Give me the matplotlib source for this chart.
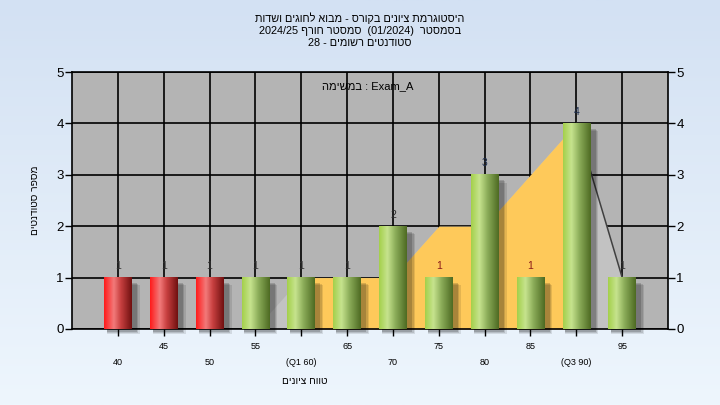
import numpy as np
import matplotlib
matplotlib.use("Agg")
import matplotlib.pyplot as plt
from matplotlib.patches import Rectangle
from matplotlib.colors import LinearSegmentedColormap

plt.rcParams['font.family'] = ['Liberation Sans', 'DejaVu Sans']

# ---- data ----
grades = [40, 45, 50, 55, 60, 65, 70, 75, 80, 85, 90, 95]
tick_labels = ['40', '45', '50', '55', '(Q1 60)', '65', '70', '75', '80', '85', '(Q3 90)', '95']
counts = [1, 1, 1, 1, 1, 1, 2, 1, 3, 1, 4, 1]
failed = [True, True, True, False, False, False, False, False, False, False, False, False]
# shaded area behind the bars
area_vals = [0, 0, 0, 0, 1, 1, 1, 2, 2, 3, 4, 1]
q1_idx, q3_idx = 4, 10

def rev(s):
    # hebrew is drawn left to right by matplotlib, so flip it to visual order
    return s[::-1]

title_lines = [rev('היסטוגרמת ציונים בקורס - מבוא לחוגים ושדות'),
               '2024/25 ' + rev('סמסטר חורף') + '  (01/2024)  ' + rev('בסמסטר'),
               '28 - ' + rev('סטודנטים רשומים')]
ylab = rev('מספר סטודנטים')
xlab = rev('טווח ציונים')
note = rev('במשימה') + ' : Exam_A'

fig = plt.figure(figsize=(7.2, 4.05), dpi=100)

# background gradient
bg = fig.add_axes([0, 0, 1, 1], zorder=-10)
grad = np.linspace(0, 1, 256).reshape(-1, 1)
bg_cmap = LinearSegmentedColormap.from_list('bg', ['#d3e1f3', '#eef6fd'])
bg.imshow(grad, cmap=bg_cmap, aspect='auto', extent=[0, 1, 0, 1])
bg.axis('off')

ax = fig.add_axes([0.1, 0.1877, 0.8278, 0.6345])
ax.set_facecolor('#b4b4b4')

x = np.arange(len(grades))

# areas
ax.fill_between(x, area_vals, color='#c2c2c2', lw=0, zorder=2)
sl = slice(q1_idx, q3_idx + 1)
ax.fill_between(x[sl], np.array(area_vals)[sl], color='#fec95a', lw=0, zorder=2.1)
ax.plot(x[q3_idx:], area_vals[q3_idx:], color='#404040', lw=1.1, zorder=2.2)

red_cmap = LinearSegmentedColormap.from_list(
    'r', [(0, '#ff1a1a'), (0.35, '#f27a7a'), (0.6, '#c84040'), (1, '#701010')])
green_cmap = LinearSegmentedColormap.from_list(
    'g', [(0, '#a4d04a'), (0.3, '#c6e38e'), (0.6, '#8aab58'), (1, '#4d6a22')])

w = 0.6
hgrad = np.linspace(0, 1, 128).reshape(1, -1)
for xi, c, f in zip(x, counts, failed):
    # soft shadow
    for k, a in enumerate([0.10, 0.12, 0.16]):
        d = 0.12 - k * 0.03
        ax.add_patch(Rectangle((xi - w / 2 + 0.06, -0.1 + k * 0.02), w + d, c - 0.05,
                               color='black', alpha=a, lw=0, zorder=3, clip_on=False))
    ax.imshow(hgrad, cmap=red_cmap if f else green_cmap, aspect='auto',
              extent=[xi - w / 2, xi + w / 2, 0, c], zorder=4, interpolation='bilinear')

lab_colors = ['#333333'] * len(counts)
lab_colors[7] = '#8b1a1a'
lab_colors[9] = '#8b1a1a'
lab_colors[6] = '#2a2a2a'
lab_colors[8] = '#1f2f4f'
lab_colors[10] = '#1f2f4f'
for xi, c, col in zip(x, counts, lab_colors):
    ax.text(xi, c + 0.13, str(c), ha='center', va='bottom', fontsize=7.5, color=col, zorder=6)

ax.set_xlim(-1, len(grades))
ax.set_ylim(0, 5)
ax.set_xticks(x)
ax.set_xticklabels([])
ax.set_yticks(range(6))
ax.grid(True, color='black', lw=1.2, zorder=1)
ax.set_axisbelow(True)
ax.tick_params(axis='both', direction='out', length=5, width=1, colors='black')
ax.tick_params(axis='y', right=True, labelright=True, labelsize=9.5, pad=1)
for s in ax.spines.values():
    s.set_color('black')
    s.set_linewidth(1.2)

# staggered x labels
for i, lab in enumerate(tick_labels):
    off = -12.5 if i % 2 else -24
    ax.annotate(lab, (i, 0), xycoords=('data', 'axes fraction'), xytext=(0, off),
                textcoords='offset points', ha='center', va='center', fontsize=6.5)

ys = [18, 31, 43]
for t, yy in zip(title_lines, ys):
    fig.text(0.5, 1 - yy / 405, t, ha='center', va='center', fontsize=7.8)

fig.text(35 / 720, 1 - 200 / 405, ylab, rotation=90, ha='center', va='center', fontsize=7.3)
fig.text(305 / 720, 1 - 381 / 405, xlab, ha='center', va='center', fontsize=7.3)
fig.text(368 / 720, 1 - 86 / 405, note, ha='center', va='center', fontsize=8)

fig.savefig('out.png', dpi=100)
